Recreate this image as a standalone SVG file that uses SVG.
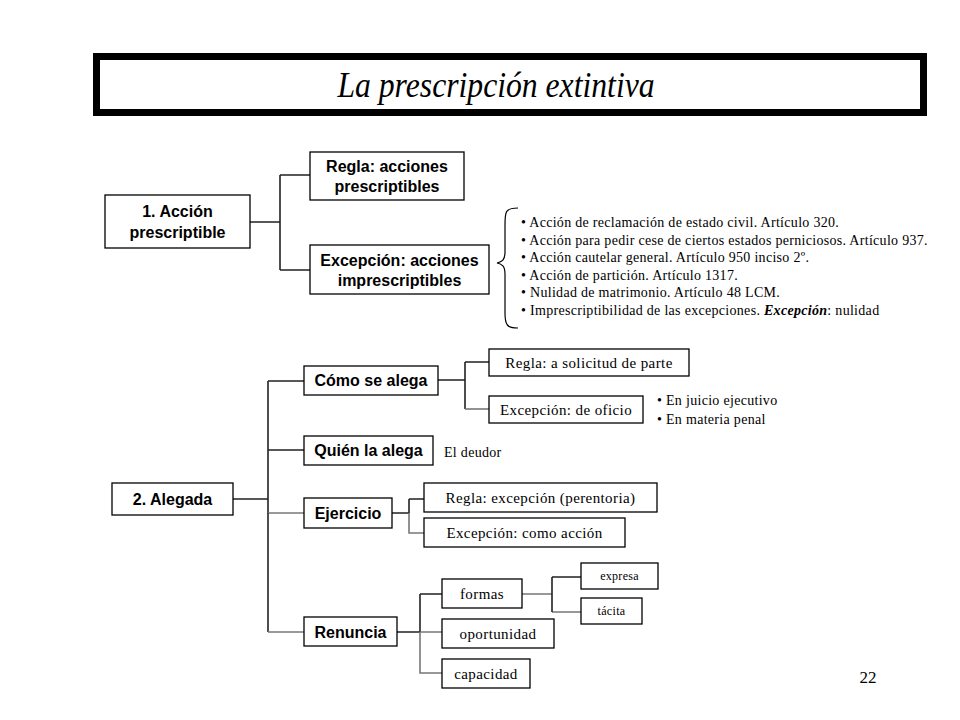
<svg xmlns="http://www.w3.org/2000/svg" width="960" height="720" viewBox="0 0 960 720">
<style>
.box{fill:#fff;stroke:#000;stroke-width:1.3}
.ln{fill:none;stroke:#222;stroke-width:1.6}
.lg{fill:none;stroke:#777;stroke-width:1.6}
.b{font-family:"Liberation Sans",Arial,sans-serif;font-weight:bold;font-size:16px;text-anchor:middle;fill:#000}
.t{font-family:"Liberation Serif","Times New Roman",serif;font-size:15px;letter-spacing:0.4px;text-anchor:middle;fill:#000}
.s{font-family:"Liberation Serif","Times New Roman",serif;font-size:12px;letter-spacing:0.3px;text-anchor:middle;fill:#000}
.l{font-family:"Liberation Serif","Times New Roman",serif;font-size:14px;letter-spacing:0.3px;fill:#000}
</style>
<rect width="960" height="720" fill="#fff"/>
<g id="title">
<rect x="96.5" y="56.5" width="827" height="56" fill="#fff" stroke="#000" stroke-width="7"/>
<text transform="translate(496,97) scale(0.88,1)" font-family="'Liberation Serif','Times New Roman',serif" font-style="italic" font-size="36" text-anchor="middle">La prescripción extintiva</text>
</g>
<g id="connectors">
<path class="ln" d="M250,222 H280 M280,175 V270 M280,175 H310 M280,270 H310"/>
<path class="ln" d="M233,499 H268 M268,381 V513 M268,381 H304 M268,450 H304"/>
<path class="lg" d="M268,513 H304"/>
<path class="ln" d="M268,513 V632"/>
<path class="lg" d="M268,632 H304"/>
<path class="ln" d="M438,380 H465 M465,362 V409 M465,362 H489"/>
<path class="lg" d="M465,409 H489"/>
<path class="ln" d="M392,513 H409 M409,499 V513 M409,499 H424"/>
<path class="lg" d="M409,513 V533 H424"/>
<path class="ln" d="M397,632 H420 M420,594 V632 M420,594 H442"/>
<path class="lg" d="M420,632 H442 M420,632 V673 H442"/>
<path class="lg" d="M522,594 H552 M552,612 H581"/>
<path class="ln" d="M552,577 V612 M552,577 H581"/>
<path d="M518,208 C505,208 505,212 505,225 L505,252 C505,260 502,262 497,263 C502,264 505,266 505,274 L505,313 C505,325 507,328 518,328" fill="none" stroke="#000" stroke-width="1.2"/>
</g>
<g id="n1">
<rect class="box" x="105" y="195" width="145" height="53"/>
<text class="b" x="177.5" y="217">1. Acción</text>
<text class="b" x="177.5" y="238">prescriptible</text>
</g>
<g id="n1a">
<rect class="box" x="310" y="152" width="154" height="48"/>
<text class="b" x="387" y="172">Regla: acciones</text>
<text class="b" x="387" y="192">prescriptibles</text>
</g>
<g id="n1b">
<rect class="box" x="310" y="245" width="179" height="49"/>
<text class="b" x="399.5" y="266">Excepción: acciones</text>
<text class="b" x="399.5" y="286">imprescriptibles</text>
</g>
<g id="list1">
<text class="l" x="521" y="227">• Acción de reclamación de estado civil. Artículo 320.</text>
<text class="l" x="521" y="244.5">• Acción para pedir cese de ciertos estados perniciosos. Artículo 937.</text>
<text class="l" x="521" y="262">• Acción cautelar general. Artículo 950 inciso 2º.</text>
<text class="l" x="521" y="279.5">• Acción de partición. Artículo 1317.</text>
<text class="l" x="521" y="297">• Nulidad de matrimonio. Artículo 48 LCM.</text>
<text class="l" x="521" y="314.5">• Imprescriptibilidad de las excepciones. <tspan font-style="italic" font-weight="bold">Excepción</tspan>: nulidad</text>
</g>
<g id="n2">
<rect class="box" x="112" y="483" width="121" height="32"/>
<text class="b" x="172.5" y="505">2. Alegada</text>
</g>
<g id="como">
<rect class="box" x="304" y="366" width="134" height="29"/>
<text class="b" x="371" y="386">Cómo se alega</text>
</g>
<g id="quien">
<rect class="box" x="304" y="436" width="129" height="29"/>
<text class="b" x="368.5" y="456">Quién la alega</text>
</g>
<g id="ejercicio">
<rect class="box" x="304" y="498" width="88" height="30"/>
<text class="b" x="348" y="519">Ejercicio</text>
</g>
<g id="renuncia">
<rect class="box" x="304" y="617" width="93" height="29"/>
<text class="b" x="350.5" y="637.5">Renuncia</text>
</g>
<g id="regla2">
<rect class="box" x="489" y="349" width="200" height="27"/>
<text class="t" x="589" y="367.5">Regla: a solicitud de parte</text>
</g>
<g id="oficio">
<rect class="box" x="489" y="396" width="154" height="27"/>
<text class="t" x="566" y="414.5">Excepción: de oficio</text>
</g>
<g id="oficio-list">
<text class="l" x="657" y="405" letter-spacing="0.4">• En juicio ejecutivo</text>
<text class="l" x="657" y="424" letter-spacing="0.4">• En materia penal</text>
</g>
<g id="deudor">
<text class="l" x="444" y="457" font-size="15" letter-spacing="0.6">El deudor</text>
</g>
<g id="perentoria">
<rect class="box" x="424" y="483" width="233" height="29"/>
<text class="t" x="540.5" y="502.5">Regla: excepción (perentoria)</text>
</g>
<g id="accion">
<rect class="box" x="424" y="518" width="201" height="29"/>
<text class="t" x="524.5" y="537.5">Excepción: como acción</text>
</g>
<g id="formas">
<rect class="box" x="442" y="579" width="80" height="29"/>
<text class="t" x="482" y="598.5">formas</text>
</g>
<g id="oportunidad">
<rect class="box" x="442" y="619" width="112" height="29"/>
<text class="t" x="498" y="638.5">oportunidad</text>
</g>
<g id="capacidad">
<rect class="box" x="442" y="659" width="88" height="29"/>
<text class="t" x="486" y="678.5">capacidad</text>
</g>
<g id="expresa">
<rect class="box" x="581" y="563" width="77" height="26"/>
<text class="s" x="619.5" y="580">expresa</text>
</g>
<g id="tacita">
<rect class="box" x="581" y="598" width="61" height="26"/>
<text class="s" x="611.5" y="615">tácita</text>
</g>
<g id="page">
<text x="868" y="683" font-family="'Liberation Serif','Times New Roman',serif" font-size="17" text-anchor="middle">22</text>
</g>
</svg>
